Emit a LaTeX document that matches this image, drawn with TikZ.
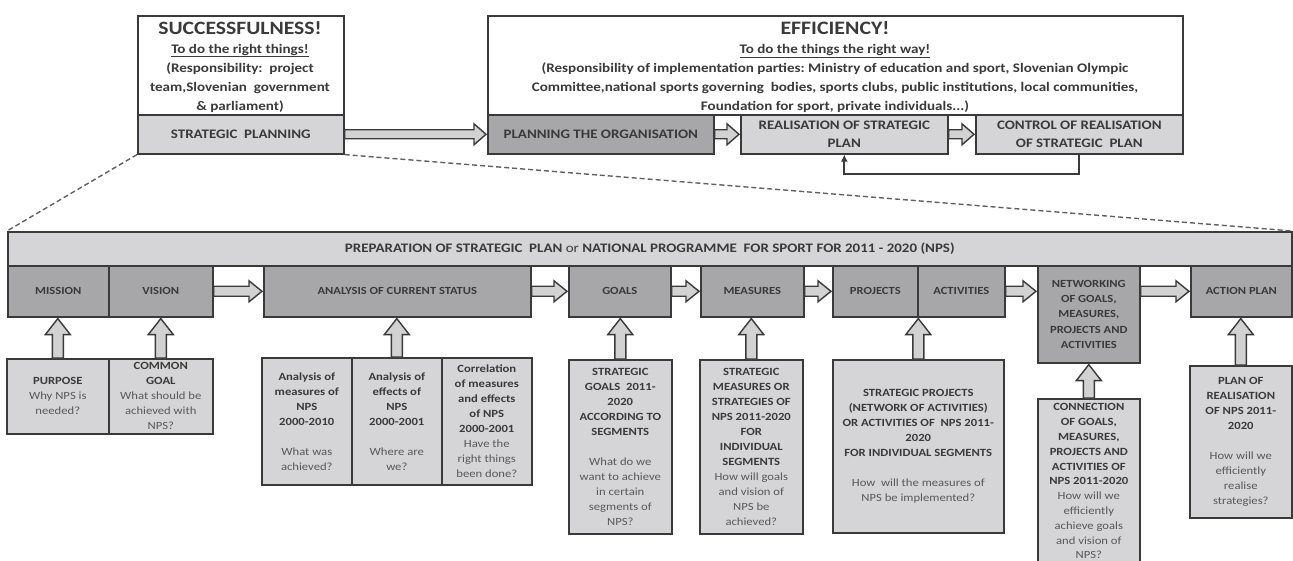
\documentclass[tikz,border=0pt]{standalone}
\usepackage{fontspec}
\setmainfont{Carlito}[FakeStretch=1.15]
\usetikzlibrary{calc,arrows.meta}
\definecolor{lg}{HTML}{D5D5D7}
\definecolor{dg}{HTML}{A7A7A9}
\definecolor{bd}{HTML}{3A3A3A}
\definecolor{tx}{HTML}{3A3A3A}
\definecolor{tq}{HTML}{585858}
\definecolor{af}{HTML}{D2D2D2}
\newcommand\qq[1]{{\mdseries\color{tq}#1}}
\begin{document}
\begin{tikzpicture}[x=1pt,y=-1pt,
  base/.style={draw=bd, line width=1.6pt, inner sep=0pt, anchor=north west, align=center, text=tx},
  wbox/.style={base, fill=white},
  lbox/.style={base, fill=lg},
  dbox/.style={base, fill=dg},
  toplab/.style={font=\fontsize{13}{18}\selectfont\bfseries},
  rowlab/.style={font=\fontsize{10.9}{15.3}\selectfont\bfseries},
  small/.style={font=\fontsize{11}{15}\selectfont\bfseries},
  ttl/.style={text=tx, font=\fontsize{19}{24}\selectfont\bfseries},
  body/.style={text=tx, align=center, font=\fontsize{13.1}{19}\selectfont\bfseries},
  dashline/.style={draw=bd!80, line width=1.4pt, dash pattern=on 5pt off 3pt},
  feedback/.style={draw=bd, line width=2pt, -{Latex[length=7pt,width=7pt]}},
  toparrow/.style={draw=bd, line width=1.4pt, fill=af, line join=miter,
    to path={let \p1=(\tikztostart), \p2=(\tikztotarget) in
      (\x1,\y1+4.5pt) -- (\x2-13pt,\y1+4.5pt) -- (\x2-13pt,\y1+10.5pt) -- (\x2-1pt,\y1)
      -- (\x2-13pt,\y1-10.5pt) -- (\x2-13pt,\y1-4.5pt) -- (\x1,\y1-4.5pt) -- cycle}},
  rowarrow/.style={draw=bd, line width=1.4pt, fill=af, line join=miter,
    to path={let \p1=(\tikztostart), \p2=(\tikztotarget) in
      (\x1,\y1+5pt) -- (\x2-14pt,\y1+5pt) -- (\x2-14pt,\y1+10.5pt) -- (\x2-1pt,\y1)
      -- (\x2-14pt,\y1-10.5pt) -- (\x2-14pt,\y1-5pt) -- (\x1,\y1-5pt) -- cycle}},
  uparrow/.style={draw=bd, line width=1.4pt, fill=af, line join=miter,
    to path={let \p1=(\tikztostart), \p2=(\tikztotarget) in
      (\x1-5.5pt,\y1) -- (\x1-5.5pt,\y2-17pt) -- (\x1-12.5pt,\y2-17pt) -- (\x1,\y2-1pt)
      -- (\x1+12.5pt,\y2-17pt) -- (\x1+5.5pt,\y2-17pt) -- (\x1+5.5pt,\y1) -- cycle}}
]
\useasboundingbox (0,0) rectangle (1293,561);

% ---------- top part ----------
\node[wbox, minimum width=206, minimum height=99] (succ) at (137,15) {};
\node[lbox, toplab, minimum width=206, minimum height=39] (sp) at (137,114) {STRATEGIC\ \ PLANNING};
\node[ttl, font=\fontsize{18.8}{24}\selectfont\bfseries] (succT) at (240,28) {SUCCESSFULNESS!};
\node[body] (succB) at (240,78) {\underline{To do the right things!}\\(Responsibility:\ \ project\\team,Slovenian\ \ government\\\& parliament)};

\node[wbox, minimum width=695, minimum height=99] (eff) at (487,15) {};
\node[ttl] (effT) at (835,28) {EFFICIENCY!};
\node[body] (effB) at (835,78.5) {\underline{To do the things the right way!}\\(Responsibility\ of implementation parties:\ Ministry of education\ and sport, Slovenian Olympic\\Committee,national sports governing\ \ bodies, sports clubs, public institutions, local communities,\\Foundation for sport, private individuals...)};
\node[dbox, toplab, minimum width=226, minimum height=39] (po) at (487,114) {PLANNING THE ORGANISATION};
\node[lbox, toplab, minimum width=207, minimum height=39] (re) at (740,114) {REALISATION OF STRATEGIC\\PLAN};
\node[lbox, toplab, minimum width=207, minimum height=39] (ctrl) at (975,114) {CONTROL OF REALISATION\\OF STRATEGIC\ \ PLAN};

\draw[toparrow] (sp.east) to (po.west);
\draw[toparrow] (po.east) to (re.west);
\draw[toparrow] (re.east) to (ctrl.west);
\draw[feedback] (ctrl.south) -- ++(0,19) -| (re.south);

% ---------- header and row ----------
\node[lbox, minimum width=1284, minimum height=34, font=\fontsize{13}{16}\selectfont\bfseries] (hdr) at (7,231)
  {PREPARATION OF STRATEGIC\ \ PLAN {\mdseries or} NATIONAL PROGRAMME\ \ FOR SPORT FOR 2011 - 2020 (NPS)};
\draw[dashline] (sp.south west) -- (hdr.north west);
\draw[dashline] (sp.south east) -- (hdr.north east);

\node[dbox, rowlab, minimum width=101, minimum height=51] (mis) at (7,265) {MISSION};
\node[dbox, rowlab, minimum width=104, minimum height=51] (vis) at (108,265) {VISION};
\node[dbox, rowlab, minimum width=267, minimum height=51] (anl) at (263,265) {ANALYSIS OF CURRENT STATUS};
\node[dbox, rowlab, minimum width=102, minimum height=51] (goals) at (568,265) {GOALS};
\node[dbox, rowlab, minimum width=103, minimum height=51] (meas) at (700,265) {MEASURES};
\node[dbox, rowlab, minimum width=85, minimum height=51] (proj) at (832,265) {PROJECTS};
\node[dbox, rowlab, minimum width=87, minimum height=51] (act) at (917,265) {ACTIVITIES};
\node[dbox, rowlab, minimum width=102, minimum height=97] (net) at (1037,265) {NETWORKING\\OF GOALS,\\MEASURES,\\PROJECTS AND\\ACTIVITIES};
\node[dbox, rowlab, minimum width=101, minimum height=51] (ap) at (1190,265) {ACTION PLAN};

\draw[rowarrow] (vis.east) to (anl.west);
\draw[rowarrow] (anl.east) to (goals.west);
\draw[rowarrow] (goals.east) to (meas.west);
\draw[rowarrow] (meas.east) to (proj.west);
\draw[rowarrow] (act.east |- ap.west) to (net.west |- ap.west);
\draw[rowarrow] (net.east |- ap.west) to (ap.west);

% ---------- bottom boxes ----------
\node[lbox, small, minimum width=102, minimum height=75] (pur) at (6,358) {PURPOSE\\\qq{Why NPS is}\\\qq{needed?}};
\node[lbox, small, minimum width=104, minimum height=75] (com) at (108,358) {COMMON\\GOAL\\\qq{What should be}\\\qq{achieved with}\\\qq{NPS?}};
\node[lbox, small, minimum width=90, minimum height=127] (an1) at (261,357) {Analysis of\\measures of\\NPS\\2000-2010\\[15pt]\qq{What was}\\\qq{achieved?}};
\node[lbox, small, minimum width=90, minimum height=127] (an2) at (351,357) {Analysis of\\effects of\\NPS\\2000-2001\\[15pt]\qq{Where are}\\\qq{we?}};
\node[lbox, small, minimum width=90, minimum height=127] (an3) at (441,357) {Correlation\\of measures\\and effects\\of NPS\\2000-2001\\\qq{Have the}\\\qq{right things}\\\qq{been done?}};
\node[lbox, small, minimum width=103, minimum height=174] (sg) at (568,359) {STRATEGIC\\GOALS\ \ 2011-\\2020\\ACCORDING TO\\SEGMENTS\\[15pt]\qq{What do we}\\\qq{want to achieve}\\\qq{in certain}\\\qq{segments of}\\\qq{NPS?}};
\node[lbox, small, minimum width=103, minimum height=174] (sm) at (699,359) {STRATEGIC\\MEASURES OR\\STRATEGIES OF\\NPS 2011-2020\\FOR\\INDIVIDUAL\\SEGMENTS\\\qq{How will goals}\\\qq{and vision of}\\\qq{NPS be}\\\qq{achieved?}};
\node[lbox, small, minimum width=171, minimum height=173] (spj) at (832,359) {STRATEGIC PROJECTS\\(NETWORK OF ACTIVITIES)\\OR ACTIVITIES OF\ \ NPS 2011-\\2020\\FOR INDIVIDUAL SEGMENTS\\[15pt]\qq{How\ \ will the measures of}\\\qq{NPS be implemented?}};
\node[lbox, minimum width=102, minimum height=165, font=\fontsize{11}{14.8}\selectfont\bfseries] (con) at (1037,398) {CONNECTION\\OF GOALS,\\MEASURES,\\PROJECTS AND\\ACTIVITIES OF\\NPS 2011-2020\\\qq{How will we}\\\qq{efficiently}\\\qq{achieve goals}\\\qq{and vision of}\\\qq{NPS?}};
\node[lbox, small, minimum width=102, minimum height=152] (pl) at (1189,365) {PLAN OF\\REALISATION\\OF NPS 2011-\\2020\\[15pt]\qq{How will we}\\\qq{efficiently}\\\qq{realise}\\\qq{strategies?}};

\draw[uparrow] (pur.north) to (mis.south);
\draw[uparrow] (com.north) to (vis.south);
\draw[uparrow] (an2.north) to (anl.south);
\draw[uparrow] (sg.north) to (goals.south);
\draw[uparrow] (sm.north) to (meas.south);
\draw[uparrow] (spj.north) to (proj.south east);
\draw[uparrow] (con.north) to (net.south);
\draw[uparrow] (pl.north) to (ap.south);
\end{tikzpicture}
\end{document}
